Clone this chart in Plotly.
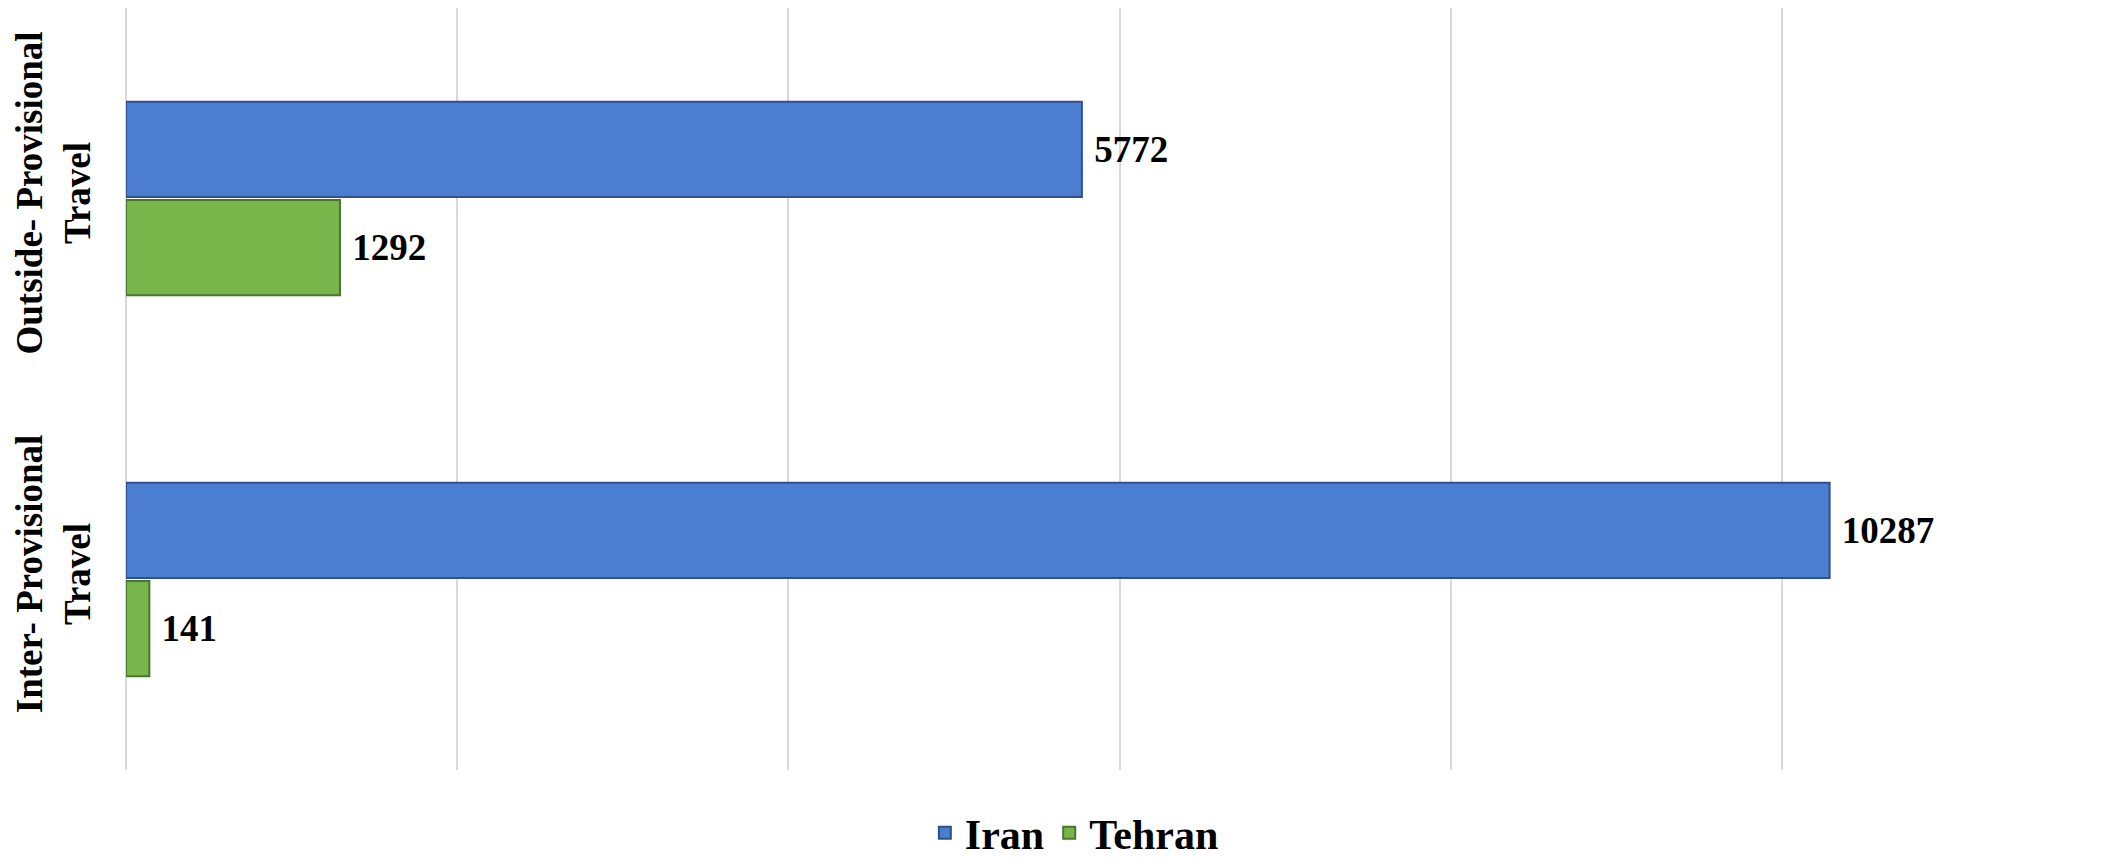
import plotly.graph_objects as go

# categories, top to bottom
categories = ["Outside- Provisional<br>Travel", "Inter- Provisional<br>Travel"]
series_names = ["Iran", "Tehran"]
iran_values = [5772, 10287]
tehran_values = [1292, 141]

BLUE = "#4B7DD1"
BLUE_EDGE = "#30518C"
GREEN = "#78B64B"
GREEN_EDGE = "#4A7530"
GRID = "#D9D9D9"
FONT = "Liberation Serif, Times New Roman, serif"

fig = go.Figure()
for name, vals, color, edge in [
    (series_names[0], iran_values, BLUE, BLUE_EDGE),
    (series_names[1], tehran_values, GREEN, GREEN_EDGE),
]:
    fig.add_trace(go.Bar(
        y=categories, x=vals, name=name, orientation="h",
        marker=dict(color=color, line=dict(color=edge, width=2)),
        texttemplate="\u00a0%{x:.0f}", textposition="outside",
        textfont=dict(family=FONT, size=37, color="black", weight="bold"),
        cliponaxis=False,
    ))

# page body adds an 8px margin, so the figure is 8px smaller than the window
fig.update_layout(
    width=2102, height=853,
    plot_bgcolor="white", paper_bgcolor="white",
    font=dict(family=FONT, color="black"),
    margin=dict(l=118, r=0, t=0, b=91),
    barmode="group", bargap=0.485, bargroupgap=0.03,
    xaxis=dict(range=[0, 11980], dtick=2000, showgrid=True, gridcolor=GRID, gridwidth=2,
               zeroline=True, zerolinecolor=GRID, zerolinewidth=2,
               showticklabels=False, showline=False, automargin=False),
    yaxis=dict(autorange="reversed", showgrid=False, zeroline=False, showline=False,
               tickangle=-90, ticks="", ticklabelstandoff=28, automargin=False,
               range=[1.51, -0.49],
               tickfont=dict(family=FONT, size=37, color="black", weight="bold")),
    legend=dict(orientation="h", x=0.478, xanchor="center",
                yref="container", y=0.033, yanchor="middle",
                font=dict(family=FONT, size=42, color="black", weight="bold")),
)

fig.write_html("out.html")
